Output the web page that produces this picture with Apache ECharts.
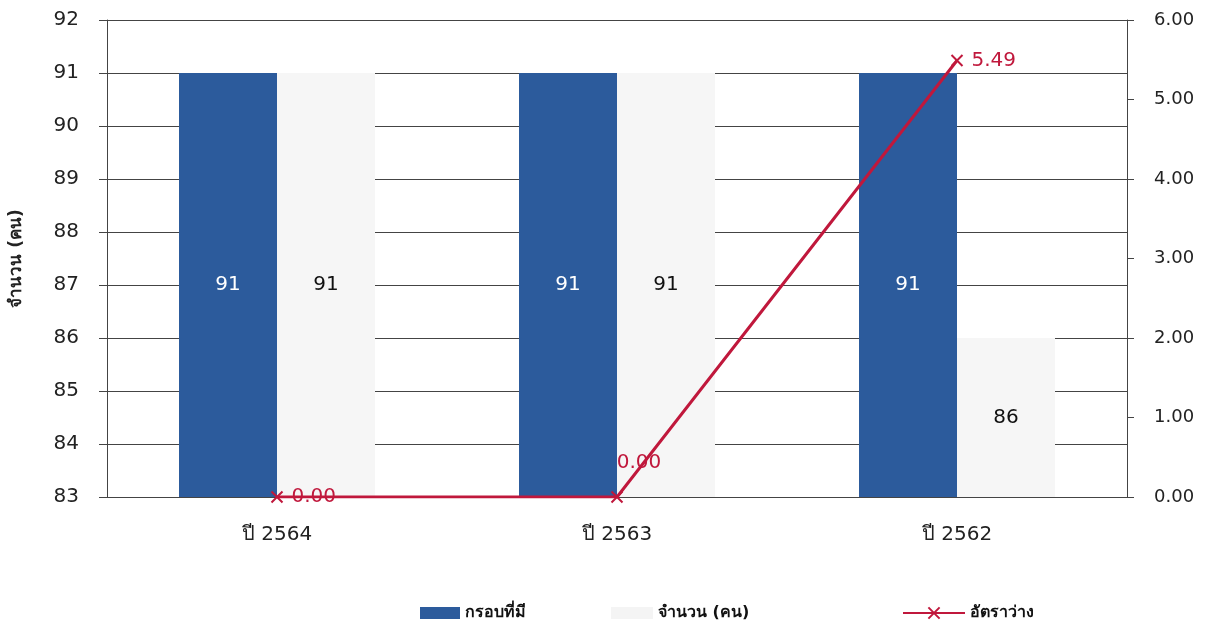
<!DOCTYPE html>
<html><head><meta charset="utf-8">
<script src="https://cdn.jsdelivr.net/npm/echarts@6/dist/echarts.min.js"></script>
<style>html,body{margin:0;padding:0;background:#fff}#c{width:1211px;height:628px}</style>
</head><body><div id="c"></div>
<script>
const categories = ['ปี 2564', 'ปี 2563', 'ปี 2562'];
const frameValues = [91, 91, 91];
const countValues = [91, 91, 86];
const vacancyRate = [0.00, 0.00, 5.49];
const leftTicks = {min: 83, max: 92, interval: 1};
const rightTicks = {min: 0, max: 6, interval: 1};
const seriesNames = ['กรอบที่มี', 'จำนวน (คน)', 'อัตราว่าง'];

const font = "'DejaVu Sans', 'Noto Sans', sans-serif";
const red = '#c0183c';
const xPath = 'path://M0,0L10,10M10,0L0,10';
const rateLabels = [
  {position: 'right', offset: [0, 0]},
  {position: 'top', offset: [22, -10]},
  {position: 'right', offset: [0, 0]}
];
const legendText = {fontSize: 16, color: '#111', fontWeight: 'bold', fontFamily: font};

const chart = echarts.init(document.getElementById('c'));
chart.setOption({
  animation: false,
  textStyle: {fontFamily: font},
  grid: {left: 104, right: 84, top: 20, bottom: 131},
  legend: [
    {top: 600, left: 415, itemWidth: 40, itemHeight: 12, itemGap: 6, textStyle: legendText,
     data: [{name: seriesNames[0], icon: 'rect'}]},
    {top: 600, left: 606, itemWidth: 42, itemHeight: 12, textStyle: legendText,
     data: [{name: seriesNames[1], icon: 'rect', itemStyle: {color: '#f4f4f4'}}]},
    {top: 600, left: 897, itemWidth: 62, itemHeight: 14, textStyle: legendText,
     data: [{name: seriesNames[2]}]}
  ],
  xAxis: {
    type: 'category', data: categories,
    axisLine: {show: true, lineStyle: {color: '#444'}},
    axisTick: {show: false},
    axisLabel: {fontSize: 20, color: '#222', margin: 28, fontFamily: font}
  },
  yAxis: [{
    type: 'value', min: leftTicks.min, max: leftTicks.max, interval: leftTicks.interval,
    name: 'จำนวน (คน)', nameLocation: 'middle', nameGap: 82, nameRotate: 90,
    nameTextStyle: {fontSize: 17, color: '#222', fontWeight: 'bold', fontFamily: font},
    axisLine: {show: true, lineStyle: {color: '#444'}},
    axisTick: {show: true, length: 8, lineStyle: {color: '#444'}},
    axisLabel: {fontSize: 20, color: '#222', margin: 28, fontFamily: font},
    splitLine: {show: true, lineStyle: {color: '#444', width: 1}}
  }, {
    type: 'value', min: rightTicks.min, max: rightTicks.max, interval: rightTicks.interval,
    position: 'right',
    axisLine: {show: true, lineStyle: {color: '#444'}},
    axisTick: {show: true, length: 7, lineStyle: {color: '#444'}},
    axisLabel: {fontSize: 18, color: '#222', margin: 27, fontFamily: font,
      formatter: v => v.toFixed(2)},
    splitLine: {show: false}
  }],
  series: [{
    name: seriesNames[0], type: 'bar', data: frameValues,
    barWidth: 98, barGap: '0%',
    itemStyle: {color: '#2c5b9c'},
    label: {show: true, position: 'inside', color: '#fff', fontSize: 20, fontFamily: font}
  }, {
    name: seriesNames[1], type: 'bar', data: countValues,
    barWidth: 98,
    itemStyle: {color: '#f6f6f6'},
    label: {show: true, position: 'inside', color: '#111', fontSize: 20, fontFamily: font}
  }, {
    name: seriesNames[2], type: 'line', yAxisIndex: 1,
    data: vacancyRate.map((v, i) => ({value: v, label: rateLabels[i]})),
    lineStyle: {color: red, width: 3},
    symbol: xPath, symbolSize: 11,
    itemStyle: {color: red, borderColor: red, borderWidth: 2},
    label: {show: true, color: red, fontSize: 20, fontFamily: font, distance: 8,
      formatter: p => p.value.toFixed(2)}
  }]
});
</script></body></html>
